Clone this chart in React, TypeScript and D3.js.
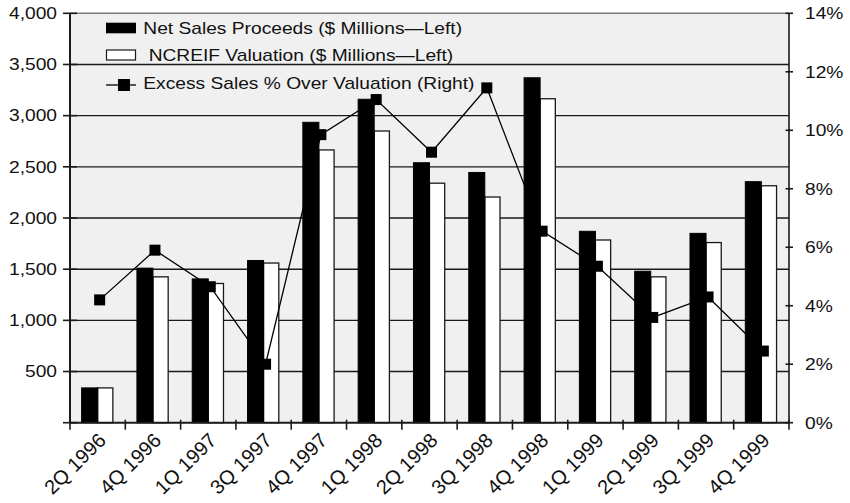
import React from "react";
import * as d3 from "d3";

// Quarterly property sales vs. appraisal values
const categories = [
  "2Q 1996", "4Q 1996", "1Q 1997", "3Q 1997", "4Q 1997", "1Q 1998", "2Q 1998",
  "3Q 1998", "4Q 1998", "1Q 1999", "2Q 1999", "3Q 1999", "4Q 1999",
];
// $ millions, left axis
const netSales = [340, 1510, 1405, 1585, 2935, 3160, 2540, 2445, 3370, 1870, 1480, 1850, 2355];
const ncreifValuation = [340, 1425, 1360, 1560, 2665, 2850, 2340, 2205, 3165, 1785, 1425, 1760, 2315];
// percent, right axis
const excessPct = [4.2, 5.9, 4.65, 2.0, 9.85, 11.05, 9.25, 11.45, 6.55, 5.35, 3.6, 4.3, 2.45];

const leftTicks = [0, 500, 1000, 1500, 2000, 2500, 3000, 3500, 4000];
const rightTicks = [0, 2, 4, 6, 8, 10, 12, 14];

const legendLabels = [
  "Net Sales Proceeds ($ Millions\u2014Left)",
  " NCREIF Valuation ($ Millions\u2014Left)",
  "Excess Sales % Over Valuation (Right)",
];

const W = 850;
const H = 503;
const plot = { left: 70, right: 789, top: 13.3, bottom: 422.7 };
const FONT = "'Liberation Sans', Arial, Helvetica, sans-serif";
const SX = 1.2; // horizontal text stretch

const x = d3.scaleBand<string>().domain(categories).range([plot.left, plot.right]).padding(0);
const yL = d3.scaleLinear().domain([0, 4000]).range([plot.bottom, plot.top]);
const yR = d3.scaleLinear().domain([0, 14]).range([plot.bottom, plot.top]);
const fmt = d3.format(",");

export default function App() {
  const bw = x.bandwidth();
  const cx = (c: string) => (x(c) as number) + bw / 2;
  const blackW = bw * 0.29;
  const whiteW = bw * 0.275;
  const mk = 11;

  const linePts: [number, number][] = categories.map((c, i) => [cx(c) + 2, yR(excessPct[i])]);
  const lineGen = d3.line();

  const boundaries = [...categories.map((c) => x(c) as number), plot.right];

  return (
    <svg
      width={W}
      height={H}
      viewBox={`0 0 ${W} ${H}`}
      style={{ position: "absolute", left: 0, top: 0, background: "#fff" }}
      fontFamily={FONT}
    >
      {/* plot background */}
      <rect
        x={plot.left}
        y={plot.top}
        width={plot.right - plot.left}
        height={plot.bottom - plot.top}
        fill="#f0f0f0"
      />
      {/* horizontal gridlines */}
      {leftTicks
        .filter((t) => t > 0 && t < 4000)
        .map((t) => (
          <line key={t} x1={plot.left} x2={plot.right} y1={yL(t)} y2={yL(t)} stroke="#1a1a1a" strokeWidth={1.4} />
        ))}
      <line x1={plot.left} x2={plot.right} y1={plot.top} y2={plot.top} stroke="#7a7a7a" strokeWidth={1.4} />

      {/* bars */}
      {categories.map((c, i) => (
        <g key={c}>
          <rect
            x={cx(c)}
            y={yL(ncreifValuation[i])}
            width={whiteW}
            height={plot.bottom - yL(ncreifValuation[i])}
            fill="#ffffff"
            stroke="#1a1a1a"
            strokeWidth={1.3}
          />
          <rect
            x={cx(c) - blackW}
            y={yL(netSales[i])}
            width={blackW}
            height={plot.bottom - yL(netSales[i])}
            fill="#000"
            stroke="#000"
            strokeWidth={1}
          />
        </g>
      ))}

      {/* excess % line */}
      <path d={lineGen(linePts) || ""} fill="none" stroke="#000" strokeWidth={1.3} />
      {linePts.map(([px, py], i) => (
        <rect key={i} x={px - mk / 2} y={py - mk / 2} width={mk} height={mk} fill="#000" />
      ))}

      {/* axes */}
      <line x1={plot.left} x2={plot.left} y1={plot.top} y2={plot.bottom} stroke="#1a1a1a" strokeWidth={2} />
      <line x1={plot.right} x2={plot.right} y1={plot.top} y2={plot.bottom} stroke="#1a1a1a" strokeWidth={1.6} />
      <line x1={plot.left} x2={plot.right} y1={plot.bottom} y2={plot.bottom} stroke="#1a1a1a" strokeWidth={2} />

      {leftTicks.map((t) => (
        <g key={t}>
          <line x1={plot.left - 7} x2={plot.left + 7} y1={yL(t)} y2={yL(t)} stroke="#1a1a1a" strokeWidth={1.6} />
          {t > 0 && (
            <text
              transform={`translate(${plot.left - 13},${yL(t) + 5.8}) scale(${SX},1)`}
              textAnchor="end"
              fontSize={16}
              fill="#111"
            >
              {fmt(t)}
            </text>
          )}
        </g>
      ))}
      {rightTicks.map((t) => (
        <g key={t}>
          <line x1={plot.right - 3.5} x2={plot.right + 4} y1={yR(t)} y2={yR(t)} stroke="#1a1a1a" strokeWidth={1.6} />
          <text
            transform={`translate(${plot.right + 16},${yR(t) + 5.8}) scale(${SX},1)`}
            textAnchor="start"
            fontSize={16}
            fill="#111"
          >
            {t}%
          </text>
        </g>
      ))}
      {boundaries.map((bx, i) => (
        <line key={i} x1={bx} x2={bx} y1={plot.bottom - 3} y2={plot.bottom + 7} stroke="#1a1a1a" strokeWidth={1.6} />
      ))}
      {categories.map((c) => (
        <text
          key={c}
          transform={`translate(${cx(c) + 9.5},${plot.bottom + 19}) rotate(-44.5)`}
          textAnchor="end"
          fontSize={20}
          fill="#111"
        >
          {c}
        </text>
      ))}

      {/* legend */}
      <rect x={106} y={22.7} width={30} height={10.6} fill="#000" />
      <rect x={106.5} y={50} width={29} height={10} fill="#fff" stroke="#1a1a1a" strokeWidth={1.2} />
      <line x1={106} x2={136} y1={85} y2={85} stroke="#000" strokeWidth={1.3} />
      <rect x={118} y={79} width={12} height={12} fill="#000" />
      {legendLabels.map((s, i) => (
        <text
          key={i}
          transform={`translate(143.3,${[33.6, 61, 89.2][i]}) scale(${SX},1)`}
          fontSize={16}
          fill="#111"
          style={{ whiteSpace: "pre" }}
        >
          {s}
        </text>
      ))}
    </svg>
  );
}
